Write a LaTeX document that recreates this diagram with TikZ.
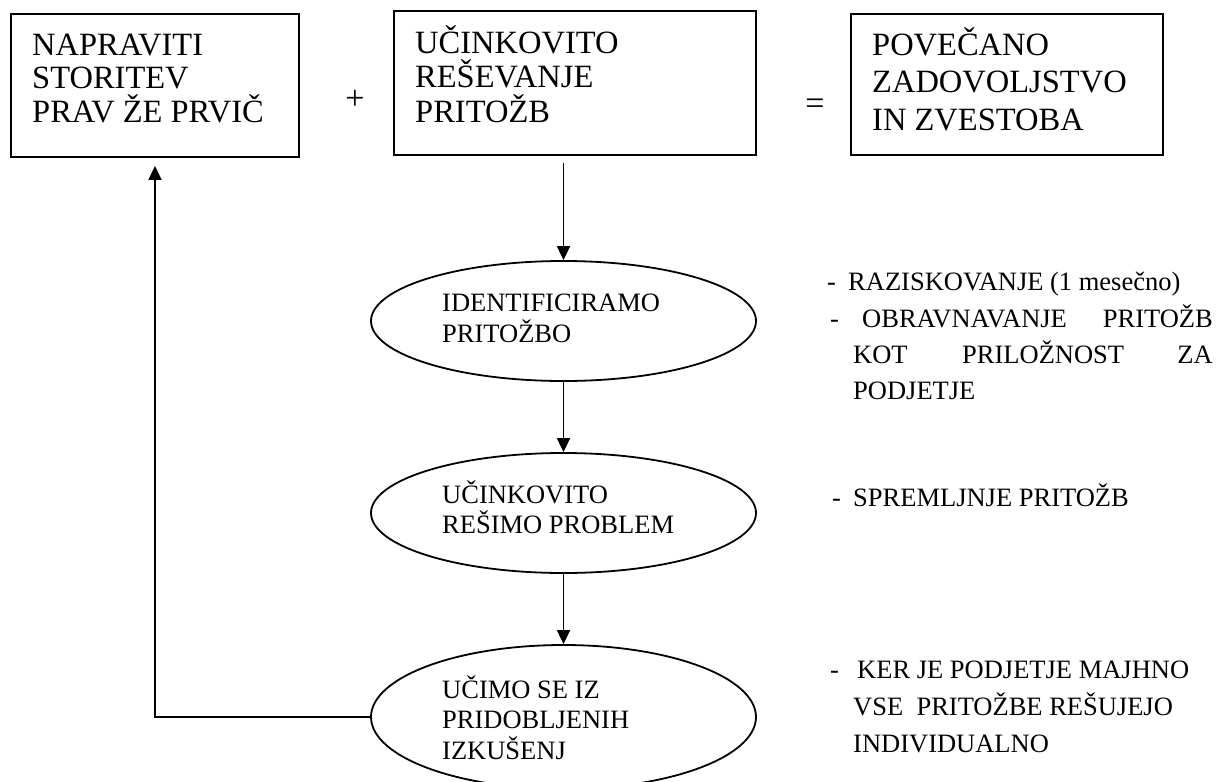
\documentclass[tikz,border=0pt]{standalone}
\usepackage{fontspec}
\setmainfont{Liberation Serif}
\usetikzlibrary{shapes.geometric,arrows.meta}
\begin{document}
\begin{tikzpicture}[x=1pt,y=-1pt,
  boxshape/.style={draw,line width=1.8pt,rectangle,inner sep=0pt},
  ellshape/.style={draw,line width=1.8pt,ellipse,inner sep=0pt,minimum width=385pt},
  bigtxt/.style={inner sep=0pt,anchor=base west,align=left},
  smalltxt/.style={inner sep=0pt,anchor=base west,align=left,font=\fontsize{26.5}{36.5}\selectfont},
  arr/.style={line width=1.8pt,-{Triangle[width=13pt,length=14pt]}}]
\useasboundingbox (0,0) rectangle (1224,782);
% top boxes
\node[boxshape,minimum width=288pt,minimum height=143pt] (b1) at (155,85.5) {};
\node[boxshape,minimum width=362pt,minimum height=144pt] (b2) at (575,83) {};
\node[boxshape,minimum width=312pt,minimum height=141pt] (b3) at (1007,84.5) {};
\node[bigtxt,font=\fontsize{32.5}{33.5}\selectfont] (t1) at (32,122) {NAPRAVITI\\STORITEV\\PRAV ŽE PRVIČ};
\node[bigtxt,font=\fontsize{32.5}{34.5}\selectfont] (t2) at (415,122) {UČINKOVITO\\REŠEVANJE\\PRITOŽB};
\node[bigtxt,font=\fontsize{32.5}{37.5}\selectfont] (t3) at (872,130) {POVEČANO\\ZADOVOLJSTVO\\IN ZVESTOBA};
\node[inner sep=0pt,font=\fontsize{34}{34}\selectfont] (plus) at (355,100) {+};
\node[inner sep=0pt,font=\fontsize{34}{34}\selectfont] (eq) at (815,107) {=};
% ellipses
\node[ellshape,minimum height=120pt] (e1) at (563.5,321) {};
\node[ellshape,minimum height=120pt] (e2) at (563.5,513) {};
\node[ellshape,minimum height=144pt] (e3) at (563.5,717) {};
\node[smalltxt,font=\fontsize{26.5}{31}\selectfont] (et1) at (442,342) {IDENTIFICIRAMO\\PRITOŽBO};
\node[smalltxt,font=\fontsize{26.5}{30}\selectfont] (et2) at (442,533) {UČINKOVITO\\REŠIMO PROBLEM};
\node[smalltxt,font=\fontsize{26.5}{30.5}\selectfont] (et3) at (442,759) {UČIMO SE IZ\\PRIDOBLJENIH\\IZKUŠENJ};
% right notes
\node[smalltxt] (r1d) at (827,290) {-};
\node[smalltxt] (r1) at (848,290) {RAZISKOVANJE (1 mesečno)};
\node[smalltxt] (r2d) at (830,327) {-};
\node[smalltxt] (r2a) at (862,327) {OBRAVNAVANJE};
\node[smalltxt,anchor=base east] (r2b) at (1213,327) {PRITOŽB};
\node[smalltxt] (r3a) at (853,363) {KOT};
\node[smalltxt] (r3b) at (962,363) {PRILOŽNOST};
\node[smalltxt,anchor=base east] (r3c) at (1213,363) {ZA};
\node[smalltxt] (r4) at (853,399) {PODJETJE};
\node[smalltxt] (r5d) at (832,506) {-};
\node[smalltxt] (r5) at (853,506) {SPREMLJNJE PRITOŽB};
\node[smalltxt] (r6d) at (830,678) {-};
\node[smalltxt] (r6) at (857,678) {KER JE PODJETJE MAJHNO};
\node[smalltxt] (r7) at (853,715) {VSE\ \ PRITOŽBE REŠUJEJO};
\node[smalltxt] (r8) at (853,752) {INDIVIDUALNO};
% connectors
\draw[arr,shorten <=7pt] (b2.south -| e1.north) -- (e1.north);
\draw[arr] (e1.south) -- (e2.north);
\draw[arr] (e2.south) -- (e3.north);
\draw[arr,shorten >=8pt] (e3.west) -- (b1.south |- e3.west) -- (b1.south);
\end{tikzpicture}
\end{document}
